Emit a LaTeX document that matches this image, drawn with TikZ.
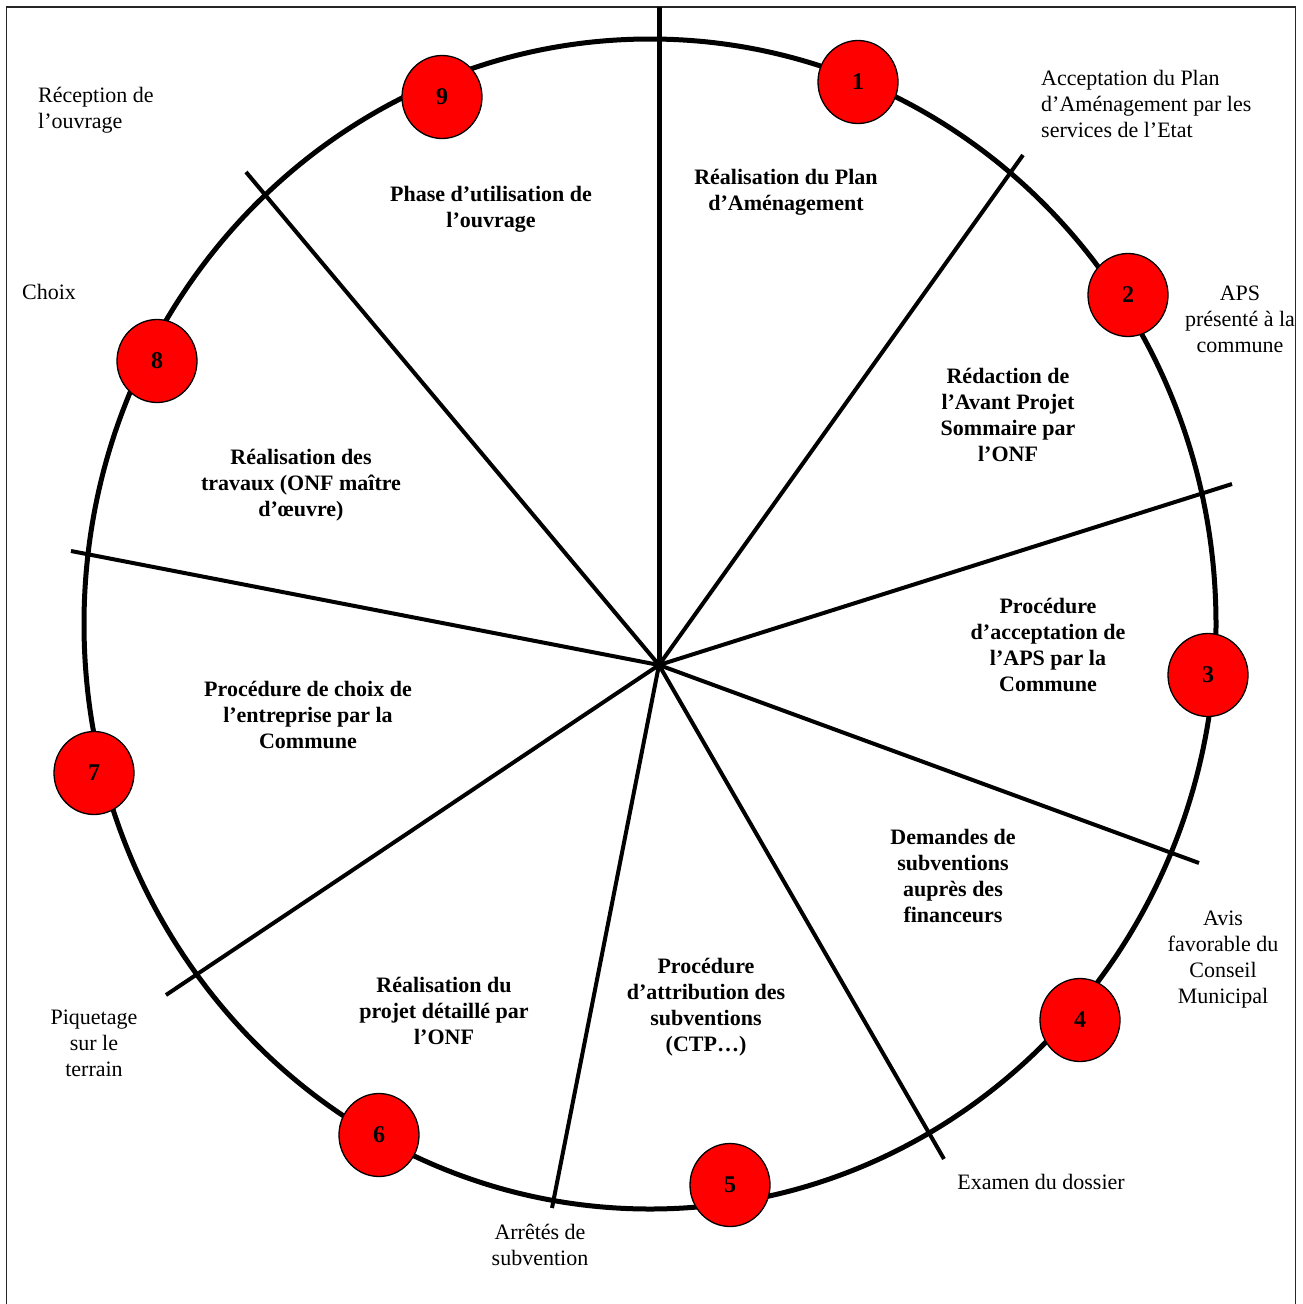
\documentclass[tikz,border=0pt]{standalone}
\usepackage{fontspec}
\setmainfont{Liberation Serif}
\usetikzlibrary{shapes.geometric}
\begin{document}
\begin{tikzpicture}[x=1pt,y=-1pt,
  frameline/.style={line width=1.5pt, draw=black!85},
  ring/.style={line width=5pt},
  spoke/.style={line width=4pt},
  milestone/.style={ellipse, draw=black, line width=1.3pt, fill=red, minimum width=80pt, minimum height=83pt, inner sep=0pt, font=\fontsize{24}{26}\selectfont\bfseries},
  phase/.style={align=center, font=\fontsize{22}{26}\selectfont\bfseries, inner sep=0pt},
  event/.style={align=center, font=\fontsize{22}{26}\selectfont, inner sep=0pt},
]
\useasboundingbox (0,0) rectangle (1302,1304);
\fill[white] (0,0) rectangle (1302,1304);
% frame
\coordinate (fbl) at (6.5,1304);
\coordinate (ftl) at (6.5,7);
\coordinate (ftr) at (1295.5,7);
\coordinate (fbr) at (1295.5,1304);
\draw[frameline] (fbl) -- (ftl) -- (ftr) -- (fbr);
% ring
\coordinate (o) at (650,624);
\draw[ring] (o) ellipse [x radius=566pt, y radius=585pt];
% spokes
\coordinate (c) at (659,665);
\coordinate (e1) at (659,7);
\coordinate (e2) at (1023,155);
\coordinate (e3) at (1232,484);
\coordinate (e4) at (1199,863);
\coordinate (e5) at (944,1159);
\coordinate (e6) at (552,1208);
\coordinate (e7) at (166,995);
\coordinate (e8) at (71,551);
\coordinate (e9) at (246,172);
\draw[spoke, line width=5pt] (c) -- (e1);
\foreach \e in {e2,e3,e4,e5,e6,e7,e8,e9} \draw[spoke] (c) -- (\e);
% milestones
\node[milestone] (m1) at (858,82) {1};
\node[milestone] (m2) at (1128,295) {2};
\node[milestone] (m3) at (1208,675) {3};
\node[milestone] (m4) at (1080,1020) {4};
\node[milestone] (m5) at (730,1185) {5};
\node[milestone] (m6) at (379,1135) {6};
\node[milestone] (m7) at (94,773) {7};
\node[milestone] (m8) at (157,361) {8};
\node[milestone] (m9) at (442,97) {9};
% phases
\node[phase] (p1) at (786,192.5) {Réalisation du Plan\\d’Aménagement};
\node[phase] (p2) at (1008,414.5) {Rédaction de\\l’Avant Projet\\Sommaire par\\l’ONF};
\node[phase] (p3) at (1048,645) {Procédure\\d’acceptation de\\l’APS par la\\Commune};
\node[phase] (p4) at (953,875.5) {Demandes de\\subventions\\auprès des\\financeurs};
\node[phase] (p5) at (706,1007.5) {Procédure\\d’attribution des\\subventions\\(CTP…)};
\node[phase] (p6) at (444,1011) {Réalisation du\\projet détaillé par\\l’ONF};
\node[phase] (p7) at (308,714.5) {Procédure de choix de\\l’entreprise par la\\Commune};
\node[phase] (p8) at (301,485) {Réalisation des\\travaux (ONF maître\\d’œuvre)};
\node[phase] (p9) at (491,209) {Phase d’utilisation de\\l’ouvrage};
% events
\node[event, align=left, anchor=west] (v1) at (1041,104) {Acceptation du Plan\\d’Aménagement par les\\services de l’Etat};
\node[event] (v2) at (1240,319) {APS\\présenté à la\\commune};
\node[event] (v3) at (1223,959.5) {Avis\\favorable du\\Conseil\\Municipal};
\node[event] (v4) at (1041,1182) {Examen du dossier};
\node[event] (v5) at (540,1244.5) {Arrêtés de\\subvention};
\node[event] (v6) at (94,1043.5) {Piquetage\\sur le\\terrain};
\node[event, align=left, anchor=west] (v7) at (22,292) {Choix};
\node[event, align=left, anchor=west] (v8) at (38,110) {Réception de\\l’ouvrage};
\end{tikzpicture}
\end{document}
